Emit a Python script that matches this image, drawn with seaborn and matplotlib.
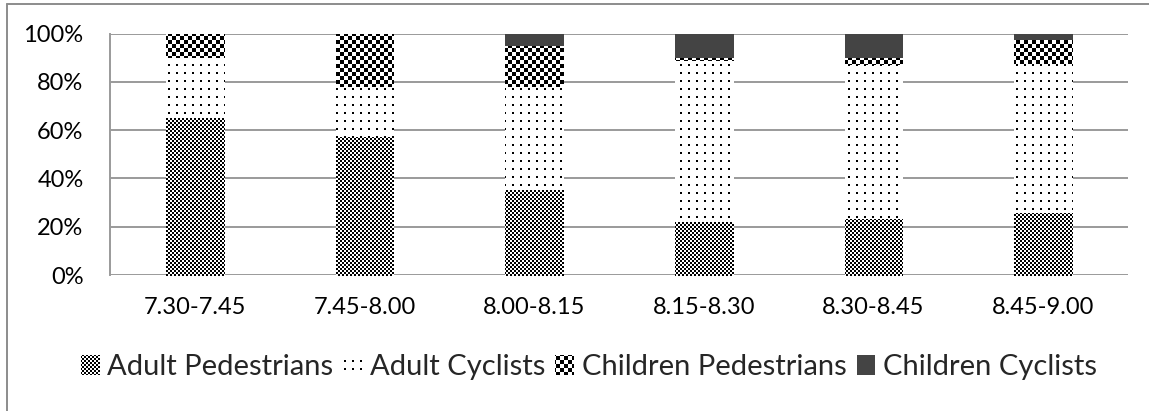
import numpy as np
import matplotlib
matplotlib.use("Agg")
import matplotlib.pyplot as plt
import seaborn as sns
from matplotlib.patches import Patch
from matplotlib.lines import Line2D

# Share of road users per 15-minute interval (percent)
periods = ["7.30-7.45", "7.45-8.00", "8.00-8.15", "8.15-8.30", "8.30-8.45", "8.45-9.00"]
adult_pedestrians = [65, 57, 35, 22, 23, 25.5]
adult_cyclists = [25, 21, 43, 66.5, 64, 62]
children_pedestrians = [10, 22, 17, 1.5, 3, 10]
children_cyclists = [0, 0, 5, 10, 10, 2.5]
series_names = ["Adult Pedestrians", "Adult Cyclists", "Children Pedestrians", "Children Cyclists"]
y_ticks = [0, 20, 40, 60, 80, 100]

W, H, DPI = 1149, 411, 100

sns.set_theme(style="white")
plt.rcParams["font.family"] = ["Lato", "DejaVu Sans"]

fig = plt.figure(figsize=(W / DPI, H / DPI), dpi=DPI)
ax = fig.add_axes([110 / W, (H - 275) / H, (1128 - 110) / W, (275 - 33.5) / H])

# Pixel textures covering the whole canvas; each is clipped to a bar segment later
rows, cols = np.mgrid[0:H, 0:W]


def to_rgb(black_mask):
    img = np.full((H, W, 3), 255, dtype=np.uint8)
    img[black_mask] = 0
    return img


fine_checker = to_rgb(((rows // 2 + cols // 2) % 2) == 0)
dotted = to_rgb(((rows % 8) < 2) & ((cols % 8) < 2))
coarse_checker = to_rgb(((rows // 4 + cols // 4) % 2) == 0)
solid_dark = np.full((H, W, 3), 0x44, dtype=np.uint8)
textures = [fine_checker, dotted, coarse_checker, solid_dark]

# Stacked bars: draw cumulative totals from the top layer down
series = [adult_pedestrians, adult_cyclists, children_pedestrians, children_cyclists]
cumulative = np.cumsum(np.array(series, dtype=float), axis=0)

layer_patches = {}
for k in range(len(series) - 1, -1, -1):
    n_before = len(ax.patches)
    sns.barplot(x=periods, y=cumulative[k], order=periods, color="white",
                width=0.34, linewidth=0, errorbar=None, ax=ax)
    layer_patches[k] = list(ax.patches[n_before:])

ax.set_ylim(0, 100)
ax.set_xlim(-0.5, len(periods) - 0.5)
ax.set_yticks(y_ticks)
ax.set_yticklabels([f"{t}%" for t in y_ticks])
ax.set_xlabel("")
ax.set_ylabel("")
ax.grid(False)
ax.yaxis.grid(True, color="#9a9a9a", linewidth=1.4)
ax.set_axisbelow(True)
for side in ["top", "right", "bottom"]:
    ax.spines[side].set_visible(False)
ax.spines["left"].set_color("#9a9a9a")
ax.spines["left"].set_linewidth(1.4)
ax.tick_params(axis="y", length=0, pad=19, labelsize=17, labelcolor="black")
ax.tick_params(axis="x", length=0, pad=16, labelsize=17, labelcolor="black")

# Fill each bar segment with its texture (lower layers painted last)
z = 2
for k in range(len(series) - 1, -1, -1):
    for p in layer_patches[k]:
        im = fig.figimage(textures[k], xo=0, yo=0, origin="upper", zorder=z)
        im.set_clip_path(p)
    z += 1

legend = fig.legend(handles=[Patch(facecolor="white", edgecolor="none", label=n) for n in series_names],
                    loc="center", bbox_to_anchor=(589 / W, 1 - 367 / H), ncol=4, frameon=False,
                    handlelength=0.6, handleheight=0.6, handletextpad=0.3, columnspacing=0.35,
                    fontsize=21, borderaxespad=0)
fig.canvas.draw()
for k, h in enumerate(legend.legend_handles):
    im = fig.figimage(textures[k], xo=0, yo=0, origin="upper", zorder=20)
    im.set_clip_path(h)

# Chart-area frame (left and top edges)
frame_kw = dict(color="#8c8c8c", linewidth=1.4, transform=fig.transFigure)
fig.add_artist(Line2D([7 / W, 7 / W], [0, 1 - 4 / H], **frame_kw))
fig.add_artist(Line2D([7 / W, 1], [1 - 4 / H, 1 - 4 / H], **frame_kw))

fig.savefig("out.png", dpi=DPI, facecolor="white")
